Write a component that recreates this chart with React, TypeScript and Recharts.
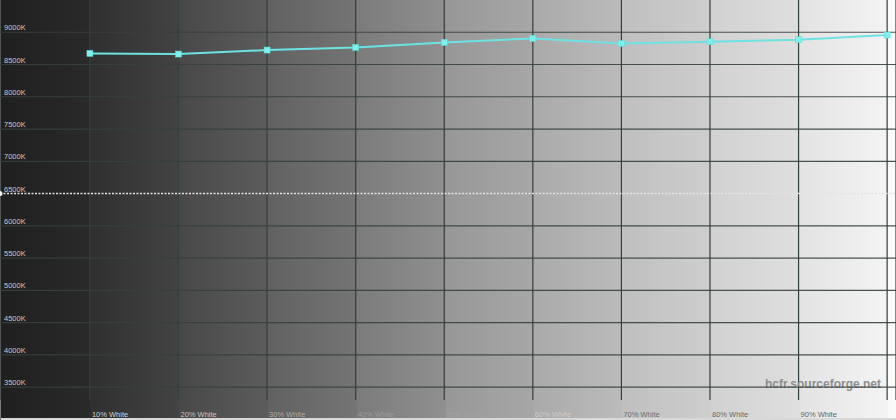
import { LineChart, Line, XAxis, YAxis, CartesianGrid, ReferenceLine, ReferenceDot } from "recharts";

// grey levels measured (percent white)
const levels = [10, 20, 30, 40, 50, 60, 70, 80, 90, 100];
const levelLabels = ["10% White", "20% White", "30% White", "40% White", "50% White", "60% White", "70% White", "80% White", "90% White", ""];
// colour temperature read at each level (K)
const cct = [8672, 8662, 8724, 8765, 8842, 8904, 8827, 8853, 8884, 8957];
const yTicks = [3500, 4000, 4500, 5000, 5500, 6000, 6500, 7000, 7500, 8000, 8500, 9000];
const target = 6500;
const watermark = "hcfr.sourceforge.net";

// label greys so they read on the grey ramp behind them
const labelFill = ["#d2d2d2", "#c4c4c4", "#a9a9a9", "#9a9a9a", "#a2a2a2", "#cacaca", "#707070", "#6a6a6a", "#666666", "#666666"];

const data = levels.map((l, i) => ({ level: l, cct: cct[i] }));

const font = "'Liberation Sans', Arial, sans-serif";

const background =
	"linear-gradient(to right, #1f1f1f 0px, #2a2a2a 90px, #2f2f2f 90px, #434343 179px, #484848 179px, #5c5c5c 268px, #616161 268px, #757575 357px, #7b7b7b 357px, #909090 446px, #979797 446px, #a7a7a7 534px, #aaaaaa 534px, #bbbbbb 622px, #bfbfbf 622px, #cecece 711px, #d1d1d1 711px, #dfdfdf 800px, #e3e3e3 800px, #f4f4f4 888px, #f9f9f9 888px, #fbfbfb 896px)";

function XTick(props: any) {
	const i = levels.indexOf(props.payload.value);
	const label = levelLabels[i];
	if (!label) return null;
	return (
		<text x={props.x + 2} y={props.y + 9} fontSize={7.5} fontFamily={font} fill={labelFill[i]}>
			{label}
		</text>
	);
}

function YTick(props: any) {
	return (
		<text x={4} y={props.y - 2} fontSize={7.5} fontFamily={font} fill="#c8c8c8">
			{props.payload.value}K
		</text>
	);
}

function SquareDot(props: any) {
	const { cx, cy } = props;
	return <rect x={cx - 3} y={cy - 3} width={6} height={6} fill="#7ef0ec" stroke="#5fdcdc" strokeWidth={0.5} />;
}

export default function App() {
	return (
		<div
			style={{
				position: "absolute",
				top: 0,
				left: 0,
				width: 896,
				height: 420,
				background,
				boxShadow: "inset 1px 0 0 #7a7a7a, inset 0 -2px 0 #d8d8d8",
			}}
		>
			<LineChart width={896} height={420} data={data} margin={{ top: 0, right: 0, left: -30, bottom: 0 }}>
				<CartesianGrid horizontal={false} stroke="#36403f" strokeWidth={1.2} />
				{yTicks
					.filter((v) => v !== target)
					.map((v) => (
						<ReferenceLine key={v} y={v} stroke="#36403f" strokeWidth={1.2} strokeOpacity={0.9} />
					))}
				<XAxis
					dataKey="level"
					type="number"
					domain={[-0.15, 101]}
					ticks={levels}
					interval={0}
					height={20}
					axisLine={false}
					tickLine={false}
					tick={<XTick />}
					allowDataOverflow
				/>
				<YAxis
					type="number"
					domain={[3300, 9500]}
					ticks={yTicks}
					interval={0}
					width={30}
					axisLine={false}
					tickLine={false}
					tick={(p: any) => <YTick {...p} />}
					allowDataOverflow
				/>
				<ReferenceLine y={target} stroke="#e4e4e4" strokeWidth={1.4} strokeDasharray="2 1.5" />
				<ReferenceDot x={-0.15} y={target} r={2.5} fill="#f0f0f0" stroke="none" />
				<Line
					type="linear"
					dataKey="cct"
					stroke="#6ee2e2"
					strokeWidth={2}
					dot={<SquareDot />}
					activeDot={false}
					isAnimationActive={false}
				/>
				<text x={881} y={388} textAnchor="end" fontSize={12} fontFamily={font} fontWeight="bold" fill="#8e8e8e">
					{watermark}
				</text>
			</LineChart>
		</div>
	);
}
